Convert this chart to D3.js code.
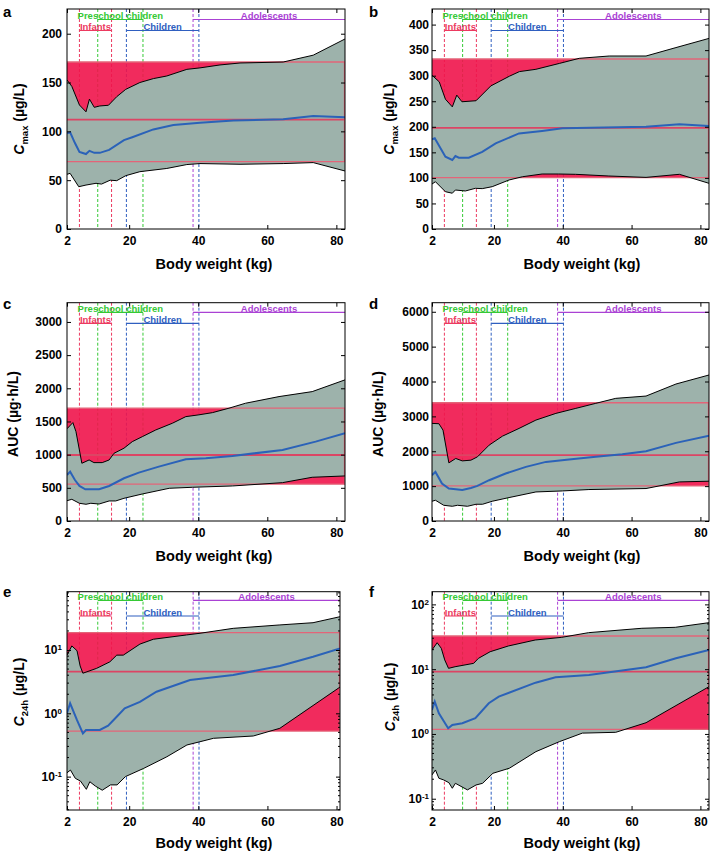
<!DOCTYPE html>
<html><head><meta charset="utf-8">
<script src="https://cdn.jsdelivr.net/npm/d3@7"></script>
<style>
body{margin:0;background:#fff}
svg{display:block}
text{font-family:"Liberation Sans",Arial,Helvetica,sans-serif;font-weight:bold;fill:#000}
</style>
</head><body>
<svg id="chart" width="712" height="853"></svg>
<script>
// ---------------- DATA ----------------
const weightTicks = [2, 20, 40, 60, 80];

const groupNames = ["Infants", "Preschool children", "Children", "Adolescents"];
const groupStart = [5.6, 10.9, 19.2, 38.5];
const groupEnd   = [14.9, 24.0, 40.2, 82.5];

// adult reference [lower, median, upper]
const aAdult = [69, 112, 171];
const bAdult = [100.4, 198, 332.7];
const cAdult = [555, 995, 1700];
const dAdult = [1006, 1888, 3391];
const eAdult = [0.525, 4.54, 18.8];
const fAdult = [1.18, 9.15, 32.5];

// [body weight, value]
const aUpper = [[2,152.6],[3.4,146],[5.6,127],[7.5,120],[8.5,133],[9.9,124.6],[11.5,126],[14,126.7],[16.4,135.5],[19,143],[23.1,150],[27,154],[30.9,156.7],[36.7,163.5],[40.5,165],[46.3,168],[52.1,170],[64.6,171],[73.3,178],[82.5,194.6]];
const aMedian = [[2,98],[2.9,99],[4.3,88],[5.6,79],[7.5,76.8],[8.5,80],[9.9,78],[11.5,78],[14.2,81],[18.5,91],[20.9,94],[27,102],[32.8,106.5],[40.5,108.8],[50.2,111],[64.6,112.3],[73.3,115.7],[82.5,114.4]];
const aLower = [[2,56],[2.9,57],[5.4,43.3],[7.5,45],[10.4,46.8],[12,46],[14.5,50],[16.4,49.5],[19,54.6],[23.1,58.7],[30.9,62],[36.7,66],[40.5,67],[52.1,66.3],[64.6,67],[73.3,68],[82.5,59.4]];

const bUpper = [[2,301],[4.1,288],[5.9,254],[7.9,239],[9.2,262],[10.7,249],[14.8,251],[19.1,280],[24.5,299],[27.4,308],[32.2,312.5],[39,324],[44.8,334],[53.5,338.5],[64.2,338.5],[72.9,355],[82.5,373]];
const bMedian = [[2,175.5],[2.8,177.5],[5.9,141.5],[7.9,135],[8.8,142.8],[9.8,139.5],[12.7,139.5],[16.6,151],[20.5,167.7],[27.3,187],[34,192],[39.9,197],[64.2,200],[73.9,205],[82.5,201.5]];
const bLower = [[2,88],[3,92.5],[5.9,73],[7.9,70],[8.8,76.3],[11.7,74.4],[14.6,79.6],[16.6,79],[19.5,82.8],[24.4,95.9],[28.3,102.3],[34,107.6],[38.8,107.6],[43.7,107],[53.4,103.7],[64.2,101],[73.9,107],[82.5,89.4]];

const cUpper = [[2,1390],[3.7,1483],[4.6,1347],[6.3,870],[8.4,920],[9.8,880],[12.2,880],[14.2,920],[15.6,1020],[18.5,1097],[20.9,1196],[23.8,1271],[27.7,1372],[32.5,1473],[36.4,1573],[40.2,1600],[44.1,1633],[48.9,1700],[53.7,1775],[63.4,1875],[73,1950],[82.5,2127]];
const cMedian = [[2,694],[2.9,744],[4.3,618],[5.6,528],[7.3,478],[11.3,478],[14.2,528],[18.5,644],[22.8,729],[28.6,819],[36.4,930],[42.2,945],[49.9,980],[64.4,1071],[74,1196],[82.5,1322]];
const cLower = [[2,306],[3.4,327],[5.6,267],[7.5,252],[8.9,267],[11.3,256],[14.2,302],[16.1,302],[18.5,342],[23.8,407],[31.6,493],[38.3,508],[49.9,528],[64.4,578],[73,659],[82.5,679]];

const dUpper = [[2,2799],[4,2790],[5.2,2606],[6.9,1667],[8.9,1793],[10.8,1724],[13.3,1744],[15.2,1839],[18.6,2175],[22.5,2434],[27.3,2655],[32.2,2894],[38,3086],[43.8,3230],[49.6,3374],[55.4,3517],[64.2,3583],[72.9,3928],[82.5,4187]];
const dMedian = [[2,1313],[3,1408],[4.9,1075],[6.9,931],[8.9,911],[10.8,891],[13.3,948],[15.2,1006],[18.6,1170],[23.4,1362],[29.3,1552],[35.1,1695],[41.8,1764],[49.6,1839],[57.3,1917],[64.2,2003],[72.9,2241],[82.5,2443]];
const dLower = [[2,566],[3,595],[5.4,451],[7.9,422],[9.4,451],[12.3,422],[14.8,480],[16.7,480],[19.5,566],[24.4,672],[32.2,833],[39.9,862],[47.6,902],[64.2,931],[73.9,1121],[82.5,1141]];

const eUpper = [[2,8.3],[3.4,11.6],[4.9,9.75],[5.8,5.6],[6.6,4.3],[10.6,5.14],[14.4,6.5],[16.4,8.3],[18.3,8.3],[23.1,12.4],[27,14.8],[36.6,17.3],[40.5,18.4],[50.1,22],[63.6,24.9],[73.2,27],[81,33.6]];
const eMedian = [[2,1.0],[2.9,1.44],[4.9,0.78],[6.6,0.48],[7.5,0.545],[11.5,0.545],[13.9,0.64],[15.9,0.83],[18.7,1.2],[23.1,1.52],[27.9,2.19],[37.6,3.36],[50.1,4.03],[63.6,5.59],[73.2,7.84],[81,10.6]];
const eLower = [[2,0.115],[3,0.127],[4.4,0.094],[5.9,0.085],[7.6,0.063],[8.6,0.083],[10.2,0.071],[12.2,0.061],[14.6,0.074],[16.5,0.074],[18.9,0.1],[24.2,0.135],[30.9,0.206],[36.7,0.316],[40.5,0.356],[44.4,0.403],[55.9,0.438],[63.6,0.58],[81,2.6]];

const fUpper = [[2,19.8],[3.5,25.6],[4.7,21],[5.7,13.9],[6.8,10.3],[8.7,10.9],[14.1,12.3],[15.5,14.7],[18.9,18.6],[24.2,22.8],[32,28.2],[39.7,31],[47.5,36.6],[63,42.8],[72.7,44.3],[82.5,52.2]];
const fMedian = [[2,2.35],[2.8,3.15],[4,2.08],[6.7,1.22],[7.9,1.38],[10.8,1.46],[14.6,1.75],[18.5,2.98],[21.4,3.77],[32.1,6.19],[37.9,7.5],[47.6,8.13],[64.2,10.7],[72.9,14.7],[82.5,19.8]];
const fLower = [[2,0.233],[3,0.278],[4,0.207],[5.4,0.195],[6.9,0.177],[7.9,0.145],[8.8,0.173],[12.3,0.137],[14.8,0.163],[16.7,0.173],[19.7,0.247],[24.5,0.296],[32.2,0.533],[39,0.76],[45.7,1.03],[55.4,1.06],[64.2,1.49],[82.5,5.37]];

const aTicks = [0, 50, 100, 150, 200];
const bTicks = [0, 50, 100, 150, 200, 250, 300, 350, 400];
const cTicks = [0, 500, 1000, 1500, 2000, 2500, 3000];
const dTicks = [0, 1000, 2000, 3000, 4000, 5000, 6000];
const eTicks = [0.1, 1, 10];
const fTicks = [0.1, 1, 10, 100];

// ---------------- STYLE / LAYOUT ----------------
const GRAY = "#9db2ab", RED = "#f0144b", REDLINE = "#e36478", REDMED = "#dc4564";
const BLUE = "#2b62b8";
const groupColors = ["#ec3a60", "#35c935", "#2f5fc0", "#aa42d4"];
const groupRow = [2, 1, 2, 1];

const cols = [{x0: 67, x1: 345}, {x0: 432, x1: 709}];
const rows = [
  {y0: 9, y1: 229, br1: 10.5, br2: 21.5, letterY: 17, xTitleY: 268.5},
  {y0: 302.7, y1: 521, br1: 9.6, br2: 20.6, letterY: 309, xTitleY: 560.5},
  {y0: 591.7, y1: 810, br1: 8.7, br2: 24.3, letterY: 597, xTitleY: 848}
];

const panels = [
  {id: "a", col: 0, row: 0, up: aUpper, med: aMedian, lo: aLower, adult: aAdult, dom: [0, 225.3], ticks: aTicks, log: false, title: "cmax", xMax: 82.5, x1: 345, titleX: 24, titleY: 119},
  {id: "b", col: 1, row: 0, up: bUpper, med: bMedian, lo: bLower, adult: bAdult, dom: [0, 430.5], ticks: bTicks, log: false, title: "cmax", xMax: 82.5, x1: 709, titleX: 394, titleY: 119},
  {id: "c", col: 0, row: 1, up: cUpper, med: cMedian, lo: cLower, adult: cAdult, dom: [0, 3290], ticks: cTicks, log: false, title: "auc", xMax: 82.5, x1: 345, titleX: 18, titleY: 414},
  {id: "d", col: 1, row: 1, up: dUpper, med: dMedian, lo: dLower, adult: dAdult, dom: [0, 6260], ticks: dTicks, log: false, title: "auc", xMax: 82.5, x1: 709, titleX: 383, titleY: 414},
  {id: "e", col: 0, row: 2, up: eUpper, med: eMedian, lo: eLower, adult: eAdult, dom: [0.0297, 83.4], ticks: eTicks, log: true, title: "c24", xMax: 81, x1: 340, titleX: 24, titleY: 692},
  {id: "f", col: 1, row: 2, up: fUpper, med: fMedian, lo: fLower, adult: fAdult, dom: [0.067, 157], ticks: fTicks, log: true, title: "c24", xMax: 82.5, x1: 709, titleX: 395, titleY: 697}
];

const svg = d3.select("#chart");
const defs = svg.append("defs");

function drawPanel(p) {
  const C = cols[p.col], R = rows[p.row];
  const x0 = C.x0, x1 = p.x1, y0 = R.y0, y1 = R.y1;
  const x = d3.scaleLinear().domain([2, p.xMax]).range([x0, x1]);
  const y = (p.log ? d3.scaleLog() : d3.scaleLinear()).domain(p.dom).range([y1, y0]);
  const g = svg.append("g");

  defs.append("clipPath").attr("id", "clip" + p.id)
    .append("rect").attr("x", x0).attr("y", y0).attr("width", x1 - x0).attr("height", y1 - y0);
  const plot = g.append("g").attr("clip-path", `url(#clip${p.id})`);

  // dashed group boundary lines
  groupNames.forEach((n, i) => {
    const ends = [groupStart[i]];
    if (groupEnd[i] < p.xMax) ends.push(groupEnd[i]);
    ends.forEach(v => {
      plot.append("line").attr("x1", x(v)).attr("x2", x(v)).attr("y1", y0).attr("y2", y1)
        .attr("stroke", groupColors[i]).attr("stroke-width", 1).attr("stroke-dasharray", "3,2");
    });
  });

  // adult range fill
  plot.append("rect").attr("x", x0).attr("width", x1 - x0)
    .attr("y", y(p.adult[2])).attr("height", y(p.adult[0]) - y(p.adult[2]))
    .attr("fill", RED).attr("fill-opacity", 0.9);

  // pediatric band
  const line = d3.line().x(d => x(d[0])).y(d => y(d[1]));
  plot.append("path").attr("d", line(p.up.concat(p.lo.slice().reverse())) + "Z")
    .attr("fill", GRAY).attr("stroke", "none");

  // adult reference lines
  [p.adult[0], p.adult[2]].forEach(v => {
    plot.append("line").attr("x1", x0).attr("x2", x1).attr("y1", y(v)).attr("y2", y(v))
      .attr("stroke", REDLINE).attr("stroke-width", 1.3);
  });
  plot.append("line").attr("x1", x0).attr("x2", x1).attr("y1", y(p.adult[1])).attr("y2", y(p.adult[1]))
    .attr("stroke", REDMED).attr("stroke-width", 1.8);
  plot.append("line").attr("x1", x1 - 0.5).attr("x2", x1 - 0.5).attr("y1", y(p.adult[2])).attr("y2", y(p.adult[0]))
    .attr("stroke", REDLINE).attr("stroke-width", 1.3);

  // outlines and median
  [p.up, p.lo].forEach(s => {
    plot.append("path").attr("d", line(s)).attr("fill", "none").attr("stroke", "#000").attr("stroke-width", 1);
  });
  plot.append("path").attr("d", line(p.med)).attr("fill", "none").attr("stroke", BLUE).attr("stroke-width", 2);

  // age group brackets
  groupNames.forEach((n, i) => {
    const by = y0 + (groupRow[i] === 1 ? R.br1 : R.br2);
    const xa = x(groupStart[i]), xb = x(Math.min(groupEnd[i], p.xMax));
    g.append("line").attr("x1", xa).attr("x2", xb).attr("y1", by).attr("y2", by)
      .attr("stroke", groupColors[i]).attr("stroke-width", 1.2);
    g.append("text").attr("x", (xa + xb) / 2).attr("y", by - 0.5).attr("text-anchor", "middle")
      .style("font-size", "9.5px").style("fill", groupColors[i]).text(n);
  });

  // axes with inward ticks
  const fmtLin = d => String(d);
  const left = g.append("g").attr("transform", `translate(${x0},0)`)
    .call(d3.axisLeft(y).tickValues(p.ticks).tickSize(-4).tickPadding(p.col === 0 ? 5 : 3).tickFormat(p.log ? () => "" : fmtLin));
  const right = g.append("g").attr("transform", `translate(${x1},0)`)
    .call(d3.axisRight(y).tickValues(p.ticks).tickSize(-4).tickFormat(() => ""));
  const bottom = g.append("g").attr("transform", `translate(0,${y1})`)
    .call(d3.axisBottom(x).tickValues(weightTicks).tickSize(-4).tickPadding(7).tickFormat(d3.format("d")));
  const top = g.append("g").attr("transform", `translate(0,${y0})`)
    .call(d3.axisTop(x).tickValues(weightTicks).tickSize(-4).tickFormat(() => ""));
  [left, right, bottom, top].forEach(a => {
    a.select(".domain").remove();
    a.selectAll(".tick line").attr("stroke", "#000");
    a.selectAll("text").style("font-size", "12px").style("font-family", null).attr("fill", "#000");
  });
  if (p.log) {
    left.selectAll(".tick text").each(function (d) {
      const t = d3.select(this);
      t.text("10");
      t.append("tspan").attr("dy", "-0.5em").style("font-size", "8px").text(String(Math.round(Math.log10(d))));
    });
    // minor ticks
    const minors = [];
    for (let e = Math.floor(Math.log10(p.dom[0])); e <= Math.ceil(Math.log10(p.dom[1])); e++) {
      for (let k = 2; k <= 9; k++) {
        const v = k * Math.pow(10, e);
        if (v > p.dom[0] && v < p.dom[1]) minors.push(v);
      }
    }
    minors.forEach(v => {
      g.append("line").attr("x1", x0).attr("x2", x0 + 2).attr("y1", y(v)).attr("y2", y(v)).attr("stroke", "#000");
      g.append("line").attr("x1", x1 - 2).attr("x2", x1).attr("y1", y(v)).attr("y2", y(v)).attr("stroke", "#000");
    });
  }

  // frame
  g.append("rect").attr("x", x0).attr("y", y0).attr("width", x1 - x0).attr("height", y1 - y0)
    .attr("fill", "none").attr("stroke", "#000").attr("stroke-width", 1);

  // x title
  g.append("text").attr("x", p.col === 0 ? 214 : 582).attr("y", R.xTitleY).attr("text-anchor", "middle")
    .style("font-size", "14.5px").text("Body weight (kg)");

  // y title
  const yt = g.append("text").attr("transform", `translate(${p.titleX},${p.titleY}) rotate(-90)`)
    .attr("text-anchor", "middle").style("font-size", "14px");
  if (p.title === "auc") {
    yt.text("AUC (µg·h/L)");
  } else {
    yt.append("tspan").style("font-style", "italic").text("C");
    yt.append("tspan").attr("dy", 3.5).style("font-size", "9.5px").text(p.title === "cmax" ? "max" : "24h");
    yt.append("tspan").attr("dy", -3.5).text(" (µg/L)");
  }

  // panel letter
  svg.append("text").attr("x", p.col === 0 ? 3 : 369).attr("y", R.letterY)
    .style("font-size", "15px").text(p.id);
}

panels.forEach(drawPanel);
</script>
</body></html>
